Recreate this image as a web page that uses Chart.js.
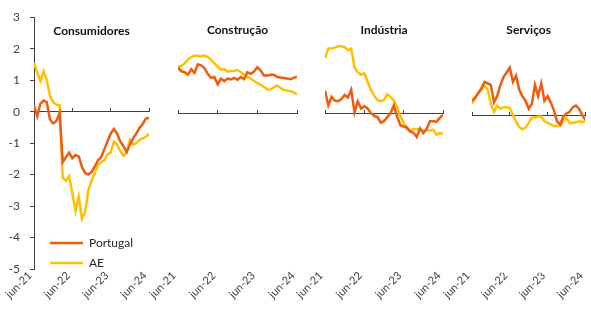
<!DOCTYPE html>
<html>
<head>
<meta charset="utf-8">
<script src="https://cdn.jsdelivr.net/npm/chart.js@4"></script>
<style>
html, body { margin: 0; padding: 0; background: #fff; }
#wrap { position: relative; width: 591px; height: 318px; overflow: hidden; }
#wrap canvas { position: absolute; left: 0; top: 0; }
</style>
</head>
<body>
<div id="wrap">
<canvas id="c1" width="591" height="318"></canvas>
<canvas id="c2" width="591" height="318"></canvas>
<canvas id="c3" width="591" height="318"></canvas>
<canvas id="c4" width="591" height="318"></canvas>
</div>
<script>
// monthly, jun-21 .. jun-24
const xTickLabels = ["jun-21", "jun-22", "jun-23", "jun-24"];
const seriesNames = ["Portugal", "AE"];

const consPT = [0.2, -0.15, 0.25, 0.35, 0.3, -0.25, -0.38, -0.3, -0.05, -1.6, -1.45, -1.3, -1.48, -1.38, -1.42, -1.75, -1.95, -2.0, -1.92, -1.75, -1.55, -1.45, -1.2, -0.95, -0.7, -0.55, -0.7, -0.95, -1.1, -1.28, -1.05, -0.85, -0.7, -0.52, -0.4, -0.22, -0.2];
const consAE = [1.55, 1.25, 0.97, 1.28, 1.0, 0.5, 0.3, 0.22, 0.2, -2.1, -2.2, -2.05, -2.6, -3.15, -2.7, -3.4, -3.2, -2.5, -2.2, -1.95, -1.7, -1.6, -1.55, -1.35, -1.3, -0.95, -1.05, -1.25, -1.4, -1.3, -0.9, -1.05, -1.0, -0.9, -0.85, -0.8, -0.7];

const constrPT = [1.45, 1.33, 1.3, 1.22, 1.4, 1.28, 1.55, 1.52, 1.43, 1.25, 1.12, 1.15, 0.92, 1.1, 1.02, 1.1, 1.07, 1.12, 1.06, 1.15, 1.08, 1.3, 1.25, 1.32, 1.46, 1.35, 1.2, 1.2, 1.22, 1.22, 1.15, 1.13, 1.12, 1.1, 1.08, 1.12, 1.16];
const constrAE = [1.48, 1.5, 1.58, 1.7, 1.78, 1.83, 1.82, 1.8, 1.83, 1.78, 1.7, 1.58, 1.48, 1.38, 1.4, 1.32, 1.34, 1.35, 1.37, 1.3, 1.22, 1.15, 1.1, 1.02, 0.96, 0.9, 0.84, 0.76, 0.75, 0.82, 0.88, 0.8, 0.74, 0.72, 0.7, 0.66, 0.6];

const indPT = [0.72, 0.25, 0.52, 0.4, 0.38, 0.45, 0.58, 0.5, 0.75, 0.02, 0.38, 0.15, 0.22, 0.15, 0.0, -0.08, -0.12, -0.3, -0.25, -0.12, 0.0, 0.25, -0.1, -0.38, -0.42, -0.45, -0.58, -0.62, -0.75, -0.48, -0.63, -0.5, -0.25, -0.25, -0.27, -0.15, -0.05];
const indAE = [1.75, 2.05, 2.05, 2.08, 2.12, 2.12, 2.1, 2.0, 2.05, 1.45, 1.3, 1.22, 1.27, 1.0, 0.75, 0.55, 0.42, 0.38, 0.42, 0.6, 0.52, 0.4, 0.2, -0.1, -0.3, -0.5, -0.58, -0.5, -0.5, -0.52, -0.55, -0.53, -0.55, -0.52, -0.68, -0.63, -0.65];

const servPT = [0.45, 0.55, 0.7, 0.85, 1.05, 1.0, 0.95, 0.4, 0.6, 0.95, 1.2, 1.35, 1.5, 1.05, 1.25, 0.8, 0.6, 0.45, 0.2, 0.35, 0.95, 0.6, 1.0, 0.45, 0.6, 0.4, 0.15, -0.2, -0.3, -0.05, 0.05, 0.1, 0.25, 0.3, 0.2, 0.0, -0.15];
const servAE = [0.35, 0.55, 0.7, 0.8, 0.92, 0.8, 0.35, 0.1, 0.3, 0.2, 0.25, 0.25, 0.22, 0.0, -0.2, -0.38, -0.45, -0.4, -0.25, -0.08, -0.08, -0.05, -0.05, -0.2, -0.25, -0.3, -0.35, -0.35, -0.35, -0.2, -0.1, -0.25, -0.25, -0.22, -0.2, -0.22, -0.2];

const monthIdx = consPT.map(function (v, i) { return i; });

const ptColor = "#EE5C0E";
const aeColor = "#FFC000";
const axisColor = "#404040";

Chart.defaults.font.family = "Lato, 'Liberation Sans', sans-serif";
Chart.defaults.color = axisColor;

// move the in-plot legend to the lower left corner
const legendSpot = {
    id: "legendSpot",
    afterLayout: function (chart) {
        const lg = chart.legend;
        if (!lg || !lg.options.display) return;
        const a = chart.chartArea;
        const h = lg.height;
        const w = lg.width;
        lg.left = a.left + 8;
        lg.right = lg.left + w;
        lg.bottom = a.bottom + 8;
        lg.top = lg.bottom - h;
    }
};

function makePanel(id, title, ptData, aeData, box, showY) {
    const ctx = document.getElementById(id).getContext("2d");
    return new Chart(ctx, {
        type: "line",
        data: {
            labels: monthIdx,
            datasets: [{
                label: seriesNames[0],
                data: ptData,
                borderColor: ptColor,
                backgroundColor: ptColor,
                borderWidth: 2.5,
                pointRadius: 0,
                tension: 0,
                xAxisID: "x",
                yAxisID: "y"
            }, {
                label: seriesNames[1],
                data: aeData,
                borderColor: aeColor,
                backgroundColor: aeColor,
                borderWidth: 2.5,
                pointRadius: 0,
                tension: 0,
                xAxisID: "x",
                yAxisID: "y"
            }]
        },
        options: {
            responsive: false,
            animation: false,
            layout: { padding: { left: box.left, right: box.right, top: 0, bottom: 0 } },
            scales: {
                y: {
                    display: showY,
                    min: -5,
                    max: 3,
                    ticks: { stepSize: 1, padding: 10, color: axisColor, font: { size: 12 } },
                    grid: { drawOnChartArea: false, drawTicks: true, tickLength: 4, color: axisColor },
                    border: { display: true, color: axisColor, width: 1 },
                    afterFit: function (s) { if (showY) s.width = 34; }
                },
                x: {
                    type: "linear",
                    min: 0,
                    max: 36,
                    position: { y: 0 },
                    ticks: { display: false, stepSize: 12 },
                    grid: { drawOnChartArea: false, drawTicks: true, tickLength: -4, color: axisColor },
                    border: { display: true, color: axisColor, width: 1 },
                    afterFit: function (s) { s.height = 0; }
                },
                x2: {
                    type: "linear",
                    min: 0,
                    max: 36,
                    position: "bottom",
                    ticks: {
                        stepSize: 12,
                        autoSkip: false,
                        maxRotation: 45,
                        minRotation: 45,
                        padding: box.labelPad,
                        labelOffset: -4,
                        color: axisColor,
                        font: { size: 11 },
                        callback: function (v) { return xTickLabels[v / 12]; }
                    },
                    grid: { display: false, drawTicks: false },
                    border: { display: false },
                    afterFit: function (s) { s.height = 318 - box.bottom; }
                }
            },
            plugins: {
                title: {
                    display: true,
                    text: title,
                    fullSize: false,
                    color: "#111111",
                    font: { size: 12, weight: "bold" },
                    padding: { top: 23.3, bottom: box.top - 14.4 - 23.3 }
                },
                legend: {
                    display: showY,
                    position: "chartArea",
                    align: "end",
                    labels: {
                        usePointStyle: true,
                        pointStyle: "line",
                        pointStyleWidth: 33,
                        padding: 8,
                        color: "#262626",
                        font: { size: 12 }
                    }
                },
                tooltip: { enabled: false }
            }
        },
        plugins: [legendSpot]
    });
}

makePanel("c1", "Consumidores", consPT, consAE, { left: 0, right: 442, top: 16.7, bottom: 269, labelPad: 0 }, true);
makePanel("c2", "Construção", constrPT, constrAE, { left: 178, right: 294, top: 18.6, bottom: 271, labelPad: -2 }, false);
makePanel("c3", "Indústria", indPT, indAE, { left: 325, right: 148, top: 18.6, bottom: 271, labelPad: -2 }, false);
makePanel("c4", "Serviços", servPT, servAE, { left: 472, right: 1, top: 20.4, bottom: 272.7, labelPad: -3.7 }, false);
</script>
</body>
</html>
